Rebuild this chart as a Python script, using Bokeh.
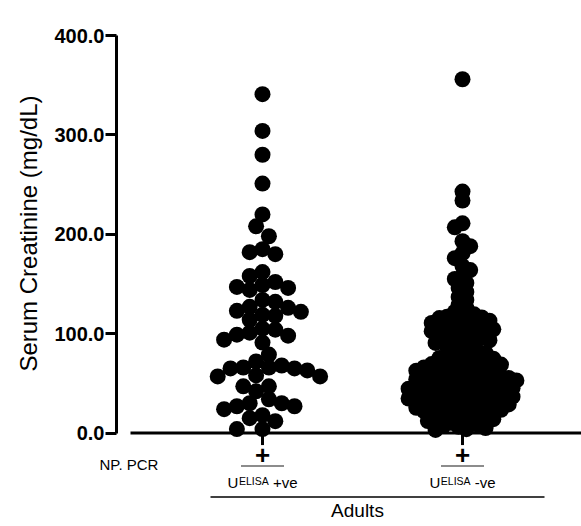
import numpy as np
from bokeh.plotting import figure
from bokeh.models import Range1d, FixedTicker, PrintfTickFormatter, Label, Title
from bokeh.core.properties import value
from bokeh.embed import file_html
from bokeh.resources import INLINE

# ---------------- data ----------------
group_pos = [1, 2]
np_pcr_marks = ["+", "+"]
elisa_prefix = ["U", "U"]
elisa_super = ["ELISA", "ELISA"]
elisa_suffix = ["+ve", "-ve"]
row_label = "NP. PCR"
category_label = "Adults"
y_title = "Serum Creatinine (mg/dL)"
yticks = [0, 100, 200, 300, 400]

g1_values = [341, 304, 280, 251, 220, 208, 198, 185, 182, 180, 162, 158, 152, 149,
             147, 146, 144, 134, 132, 127, 126, 123, 122, 119, 118, 114, 105, 104,
             101, 99, 98, 94, 91, 79, 72, 68, 66, 66, 65, 65, 63, 58, 57, 57, 47,
             47, 42, 34, 30, 30, 27, 27, 24, 18, 15, 12, 4, 4]

g2_values = [356, 243, 234, 211, 207, 193, 188, 181, 176, 168, 164, 158, 155, 151,
             146, 142, 137, 134, 129, 126, 122,
             119.5, 118.2, 116.4, 115.7, 113.9, 113.1, 112.0, 110.8, 110.2, 117.1,
             108.6, 107.3, 105.2, 104.4, 103.1, 102.5, 101.0, 106.3, 109.1,
             98.4, 96.2, 95.1, 93.4, 92.2, 90.7, 97.3, 94.0,
             88.1, 86.4, 84.7, 82.2, 80.6, 87.0,
             79.2, 77.8, 76.1, 74.9, 73.6, 72.4, 71.3, 77.0, 70.2, 75.5,
             69.4, 68.1, 67.2, 66.0, 65.3, 64.1, 62.8, 61.9, 60.6, 66.7, 68.9, 63.5, 60.1,
             59.3, 58.2, 57.0, 56.1, 55.4, 54.2, 53.0, 52.3, 51.2, 50.4, 58.7, 56.8, 54.9,
             52.7, 55.6, 51.8,
             49.5, 48.3, 47.1, 46.4, 45.2, 44.0, 43.3, 42.1, 41.4, 40.2, 48.8, 46.9, 44.6,
             42.7, 45.7, 47.6, 40.8,
             39.4, 38.1, 37.3, 36.2, 35.0, 34.4, 33.1, 32.3, 31.2, 30.5, 38.7, 36.6, 34.8,
             32.9, 35.6, 37.8, 30.9,
             29.2, 28.4, 27.1, 26.3, 25.0, 24.2, 23.4, 22.1, 21.3, 28.8, 26.7, 24.6, 22.6,
             25.5,
             19.3, 18.1, 16.4, 15.2, 14.0, 13.3, 12.1, 11.0, 17.2, 14.6, 10.4,
             8.2, 6.3, 5.1, 3.9, 3.2, 7.1]

groups_values = [g1_values, g2_values]
group_pitch_px = [12.8, 7.7]

# ---------------- layout ----------------
W, H = 581, 526
left_px, top_px = 116, 35
y_lo, y_hi = -94, 400
x_lo, x_hi = 0.27, 2.595
frame_w = W - left_px
frame_h = H - top_px
ppu_y = frame_h / (y_hi - y_lo)
ppu_x = frame_w / (x_hi - x_lo)

def dy(px):
    return -px / ppu_y

def dx(px):
    return px / ppu_x

def swarm(vals, pitch):
    vals = np.asarray(vals, dtype=float)
    order = np.argsort(-vals, kind="stable")
    placed = []
    offs = np.zeros(len(vals))
    half = pitch / 2.0
    balance = 0.0
    for i in order:
        y = vals[i] * ppu_y
        chosen = None
        for k in range(0, 100):
            if k == 0:
                cands = [0.0]
            else:
                cands = [-k * half, k * half] if balance >= 0 else [k * half, -k * half]
            for c in cands:
                if all((c - px) ** 2 + (y - py) ** 2 >= pitch ** 2 for px, py in placed):
                    chosen = c
                    break
            if chosen is not None:
                break
        placed.append((chosen, y))
        offs[i] = chosen
        balance += chosen
    return offs

p = figure(width=W, height=H, x_range=Range1d(x_lo, x_hi), y_range=Range1d(y_lo, y_hi),
           output_backend="svg", toolbar_location=None, x_axis_location=None,
           min_border_left=left_px, min_border_right=0, min_border_top=top_px,
           min_border_bottom=0)
p.grid.visible = False
p.outline_line_color = None
p.background_fill_color = "white"

yax = p.yaxis[0]
yax.bounds = (0, 400)
yax.ticker = FixedTicker(ticks=yticks)
yax.formatter = PrintfTickFormatter(format="%.1f")
yax.axis_line_width = 3
yax.axis_line_color = "black"
yax.major_tick_line_width = 3
yax.major_tick_out = 11
yax.major_tick_in = 0
yax.minor_tick_line_color = None
yax.major_label_standoff = 1
yax.major_label_text_font = "Liberation Sans"
yax.major_label_text_font_style = "bold"
yax.major_label_text_font_size = "20px"
yax.major_label_text_color = "black"

# y title as a side-panel title, aligned to the top end of the axis
p.add_layout(Title(text=y_title, align="right", offset=60, vertical_align="top", standoff=16,
                   text_font="Liberation Sans", text_font_style="normal",
                   text_font_size="24px", text_color="black"), "left")

# horizontal axis line
p.segment(x0=[x_lo + dx(14)], y0=[0], x1=[x_hi], y1=[0], line_width=3, line_color="black")

# dots
for pos, vals, pitch in zip(group_pos, groups_values, group_pitch_px):
    offs = swarm(vals, pitch)
    xs = [pos + dx(o) for o in offs]
    p.scatter(x=xs, y=vals, size=16, fill_color="black", line_color="black", line_width=0)

# small ticks below axis at group centers
p.segment(x0=group_pos, y0=[0] * 2, x1=group_pos, y1=[dy(12)] * 2, line_width=3, line_color="black")

# "+" marks
p.text(x=group_pos, y=[dy(22.4)] * 2, text=np_pcr_marks, text_align="center", text_baseline="middle",
       text_font=value("Liberation Sans"), text_font_style="bold", text_font_size="26px",
       text_color="black")

# gray underlines
p.segment(x0=[g - dx(21.5) for g in group_pos], y0=[dy(33)] * 2,
          x1=[g + dx(21.5) for g in group_pos], y1=[dy(33)] * 2,
          line_width=2, line_color="#8c8c8c")

# U^ELISA labels
aw = {"U": .722, "E": .667, "L": .556, "I": .278, "S": .667, "A": .667, "+": .584,
      "v": .5, "e": .556, "-": .333, " ": .278}

def tw(s, size):
    return sum(aw.get(c, .55) for c in s) * size

fs_main, fs_sup = 15, 10.5
gap_sup, gap_suf = 0.6, 4.2
off_u, off_e, off_s = [], [], []
for pre, sup, suf in zip(elisa_prefix, elisa_super, elisa_suffix):
    wu, we, ws = tw(pre, fs_main), tw(sup, fs_sup), tw(suf, fs_main)
    start = -(wu + gap_sup + we + gap_suf + ws) / 2
    off_u.append(start)
    off_e.append(start + wu + gap_sup)
    off_s.append(start + wu + gap_sup + we + gap_suf)

p.text(x=group_pos, y=[dy(49)] * 2, text=elisa_prefix, x_offset=off_u, text_align="left",
       text_baseline="middle", text_font=value("Liberation Sans"), text_font_size="15px",
       text_color="black")
p.text(x=group_pos, y=[dy(47.6)] * 2, text=elisa_super, x_offset=off_e, text_align="left",
       text_baseline="middle", text_font=value("Liberation Sans"), text_font_size="10.5px",
       text_color="black")
p.text(x=group_pos, y=[dy(49)] * 2, text=elisa_suffix, x_offset=off_s, text_align="left",
       text_baseline="middle", text_font=value("Liberation Sans"), text_font_size="15px",
       text_color="black")

# Adults bracket line and label
p.segment(x0=[group_pos[0] - dx(52)], y0=[dy(64)], x1=[group_pos[-1] + dx(82)], y1=[dy(64)],
          line_width=1.5, line_color="black")
p.text(x=[float(np.mean(group_pos))], y=[dy(77.4)], text=[category_label], x_offset=[-5],
       text_align="center", text_baseline="middle", text_font=value("Liberation Sans"),
       text_font_size="19px", text_color="black")

# NP. PCR row label: lives partly left of the frame, so keep it in a side panel (unclipped)
p.add_layout(Label(x=x_lo - dx(17), y=dy(31), text=row_label, text_align="left",
                   text_baseline="middle", text_font="Liberation Sans",
                   text_font_size="15px", text_color="black"), "above")

open("out.html", "w").write(file_html(p, INLINE))
